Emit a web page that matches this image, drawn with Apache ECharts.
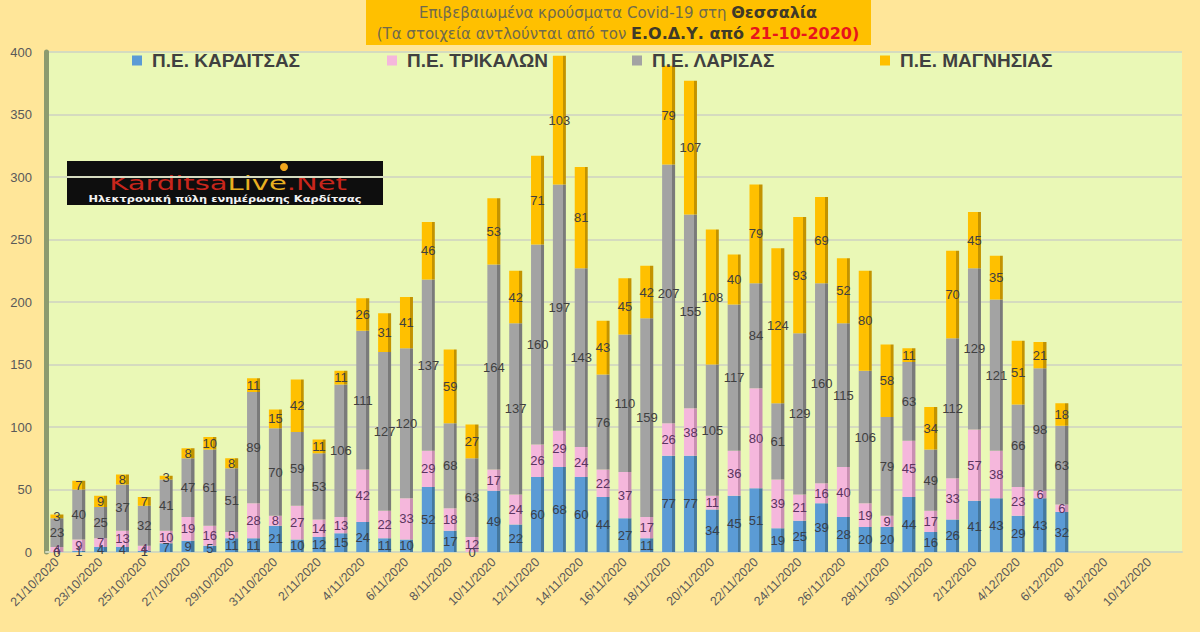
<!DOCTYPE html>
<html>
<head>
<meta charset="utf-8">
<script src="https://cdn.jsdelivr.net/npm/echarts@6/dist/echarts.min.js"></script>
<style>
  html, body { margin: 0; padding: 0; background: #FFE699; }
  #chart { width: 1200px; height: 632px; }
</style>
</head>
<body>
<div id="chart"></div>
<script>
// ημερομηνίες του άξονα (21/10 - 11/12)
const dates = [
  '21/10/2020','22/10/2020','23/10/2020','24/10/2020','25/10/2020','26/10/2020','27/10/2020',
  '28/10/2020','29/10/2020','30/10/2020','31/10/2020',
  '1/11/2020','2/11/2020','3/11/2020','4/11/2020','5/11/2020','6/11/2020','7/11/2020',
  '8/11/2020','9/11/2020','10/11/2020','11/11/2020','12/11/2020','13/11/2020','14/11/2020',
  '15/11/2020','16/11/2020','17/11/2020','18/11/2020','19/11/2020','20/11/2020','21/11/2020',
  '22/11/2020','23/11/2020','24/11/2020','25/11/2020','26/11/2020','27/11/2020','28/11/2020',
  '29/11/2020','30/11/2020',
  '1/12/2020','2/12/2020','3/12/2020','4/12/2020','5/12/2020','6/12/2020','7/12/2020',
  '8/12/2020','9/12/2020','10/12/2020','11/12/2020'
];

const karditsa = [0,1,4,4,1,7,9,5,11,11,21,
  10,12,15,24,11,10,52,17,0,49,22,60,68,60,44,27,11,77,77,34,45,51,19,25,39,28,20,20,44,16,
  26,41,43,29,43,32];
const trikala = [4,9,7,13,4,10,19,16,5,28,8,
  27,14,13,42,22,33,29,18,12,17,24,26,29,24,22,37,17,26,38,11,36,80,39,21,16,40,19,9,45,17,
  33,57,38,23,6,6];
const larisa = [23,40,25,37,32,41,47,61,51,89,70,
  59,53,106,111,127,120,137,68,63,164,137,160,197,143,76,110,159,207,155,105,117,84,61,129,160,115,106,79,63,49,
  112,129,121,66,98,63];
const magnisia = [3,7,9,8,7,3,8,10,8,11,15,
  42,11,11,26,31,41,46,59,27,53,42,71,103,81,43,45,42,79,107,108,40,79,124,93,69,52,80,58,11,34,
  70,45,35,51,21,18];

const yTicks = { min: 0, max: 400, step: 50 };

const names = ['Π.Ε. ΚΑΡΔΙΤΣΑΣ', 'Π.Ε. ΤΡΙΚΑΛΩΝ', 'Π.Ε. ΛΑΡΙΣΑΣ', 'Π.Ε. ΜΑΓΝΗΣΙΑΣ'];
const colors = ['#5B9BD5', '#F5B7DC', '#A3A3A3', '#FFC000'];
const shades = ['#44789F', '#C98FB2', '#7A7A7A', '#C39300'];
const labelColors = ['#38404a', '#5b3560', '#404040', '#404040'];
const legendX = [132, 387, 632, 880];

const chart = echarts.init(document.getElementById('chart'), null, { renderer: 'svg' });

// ράβδος με σκούρα δεξιά πλευρά (ψευδο-3D όπως στο excel)
function barColor(i) {
  return new echarts.graphic.LinearGradient(0, 0, 1, 0, [
    { offset: 0, color: colors[i] },
    { offset: 0.76, color: colors[i] },
    { offset: 0.77, color: shades[i] },
    { offset: 1, color: shades[i] }
  ]);
}

const values = [karditsa, trikala, larisa, magnisia];

const option = {
  backgroundColor: '#FFE699',
  animation: false,
  grid: {
    left: 46, right: 18, top: 52, bottom: 80,
    show: true, backgroundColor: '#EAF8B6', borderWidth: 0
  },
  legend: names.map((n, i) => ({
    data: [{ name: n, itemStyle: { color: colors[i] } }],
    left: legendX[i], top: 51, padding: 0,
    icon: 'rect', itemWidth: 10, itemHeight: 10,
    selectedMode: false,
    textStyle: {
      fontSize: 19, fontWeight: 'bold', color: '#404040',
      fontFamily: 'Liberation Sans',
      padding: [0, 0, 0, 5]
    }
  })),
  xAxis: {
    type: 'category',
    data: dates,
    axisTick: { show: false },
    axisLine: { lineStyle: { color: '#D3D9BC', width: 2 } },
    axisLabel: {
      rotate: 45, interval: 1, margin: 8,
      color: '#595959', fontSize: 12.5, fontFamily: 'Liberation Sans'
    }
  },
  yAxis: {
    type: 'value',
    min: yTicks.min, max: yTicks.max, interval: yTicks.step,
    axisLine: { show: true, lineStyle: { color: '#8C9B6F', width: 5 } },
    axisTick: { show: false },
    splitLine: { lineStyle: { color: '#D5DBBF', width: 2 } },
    axisLabel: { color: '#595959', fontSize: 13, margin: 14, fontFamily: 'Liberation Sans' }
  },
  series: names.map((n, i) => ({
    name: n,
    type: 'bar',
    stack: 'total',
    barWidth: 13,
    data: values[i],
    itemStyle: { color: barColor(i) },
    label: {
      show: true, position: 'inside',
      color: labelColors[i], fontSize: 13, fontFamily: 'Liberation Sans'
    }
  })),
  graphic: [
    // πλαίσιο τίτλου
    { type: 'rect', shape: { x: 366, y: 0, width: 505, height: 45 }, style: { fill: '#FFC000' } },
    {
      type: 'text', x: 618, y: 23,
      style: {
        text: '{n|Επιβεβαιωμένα κρούσματα Covid-19 στη }{b|Θεσσαλία}\n' +
              '{n|(Τα στοιχεία αντλούνται από τον }{b|Ε.Ο.Δ.Υ. από }{r|21-10-2020)}',
        align: 'center', verticalAlign: 'middle',
        rich: {
          n: { fontSize: 15, fontFamily: 'DejaVu Sans', fill: '#706A4C', lineHeight: 21 },
          b: { fontSize: 16, fontFamily: 'DejaVu Sans', fontWeight: 'bold', fill: '#3F3A28', lineHeight: 21 },
          r: { fontSize: 16, fontFamily: 'DejaVu Sans', fontWeight: 'bold', fill: '#E8141B', lineHeight: 21 }
        }
      }
    },
    // λογότυπο
    { type: 'rect', shape: { x: 67, y: 161, width: 316, height: 44 }, style: { fill: '#0E0E0E' } },
    { type: 'circle', shape: { cx: 284, cy: 167, r: 4 }, style: { fill: '#F2A81E' } },
    {
      type: 'text', x: 228, y: 183, scaleX: 1.45,
      style: {
        text: '{a|Karditsa}{b|Live}{a|.Net}',
        align: 'center', verticalAlign: 'middle',
        rich: {
          a: { fontSize: 20, fontFamily: 'DejaVu Sans', fill: '#C8261C' },
          b: { fontSize: 20, fontFamily: 'DejaVu Sans', fill: '#E8B021' }
        }
      }
    },
    {
      type: 'text', x: 225, y: 198, scaleX: 1.2,
      style: {
        text: 'Ηλεκτρονική πύλη ενημέρωσης Καρδίτσας',
        align: 'center', verticalAlign: 'middle',
        fontSize: 9.5, fontWeight: 'bold', fontFamily: 'DejaVu Sans', fill: '#F2F2F2'
      }
    }
  ]
};

chart.setOption(option);
</script>
</body>
</html>
